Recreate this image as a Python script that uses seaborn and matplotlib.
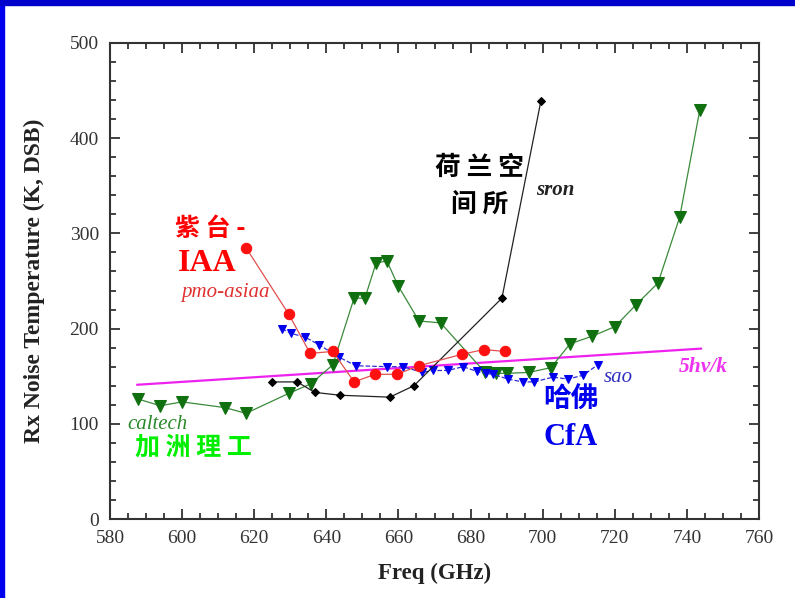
import matplotlib
matplotlib.use("Agg")
import matplotlib.pyplot as plt
from matplotlib.patches import Rectangle
from matplotlib.ticker import MultipleLocator
import seaborn as sns
import pandas as pd

# receiver noise temperatures (GHz, K DSB)
caltech_freq = [587.8, 593.9, 600.0, 611.9, 617.7, 629.6, 635.7, 641.8, 647.7, 650.7,
                653.8, 656.8, 659.9, 665.7, 671.7, 684.0, 687.0, 690.0, 696.2, 702.3,
                707.6, 713.7, 720.0, 725.9, 732.0, 738.0, 743.6]
caltech_temp = [126, 119, 123, 117, 111, 132, 142, 162, 232, 232,
                269, 271, 245, 208, 206, 154, 153, 153, 154, 159,
                184, 192, 202, 225, 248, 317, 430]

pmo_freq = [617.7, 629.6, 635.5, 641.8, 647.7, 653.5, 659.6, 665.7, 677.6, 683.7, 689.5]
pmo_temp = [285, 215, 174, 176, 144, 152, 152, 161, 173, 178, 176]

sron_freq = [624.9, 631.9, 636.8, 643.8, 657.6, 664.3, 688.7, 699.5]
sron_temp = [144, 144, 133, 130, 128, 140, 232, 439]

sao_freq = [627.7, 630.2, 634.1, 638.0, 643.5, 648.2, 656.8, 661.3, 666.5, 669.6,
            673.7, 677.9, 681.8, 684.3, 686.2, 690.4, 694.5, 697.6, 702.8, 707.0,
            711.2, 715.3]
sao_temp = [200, 195, 191, 183, 170, 161, 160, 160, 154, 156,
            156, 160, 155, 153, 152, 147, 144, 144, 149, 147,
            151, 162]

quantum_freq = [587.5, 744.0]
quantum_temp = [141, 179]

sns.set_theme(style="ticks")
plt.rcParams["font.family"] = ["Liberation Serif", "Noto Sans CJK SC", "DejaVu Sans"]
cjk = ["Noto Sans CJK SC", "DejaVu Sans"]

fig = plt.figure(figsize=(7.95, 5.98), dpi=100)
ax = fig.add_axes([0.1384, 0.1321, 0.8163, 0.7960])

# slide frame
fig.patches.append(Rectangle((0, 0), 0.005, 1, transform=fig.transFigure, color="#0000ee", zorder=0))
fig.patches.append(Rectangle((0, 0.991), 1, 0.009, transform=fig.transFigure, color="#0000cc", zorder=0))

df = pd.DataFrame({"f": quantum_freq, "T": quantum_temp})
sns.lineplot(data=df, x="f", y="T", color="#ee22ee", lw=1.6, ax=ax, estimator=None)

df = pd.DataFrame({"f": caltech_freq, "T": caltech_temp})
sns.lineplot(data=df, x="f", y="T", color="#3a8a3a", lw=0.9, marker="v", markersize=8,
             markerfacecolor="#107010", markeredgecolor="#107010", ax=ax, estimator=None, sort=False)

df = pd.DataFrame({"f": sao_freq, "T": sao_temp})
sns.lineplot(data=df, x="f", y="T", color="#3030d0", lw=0.9, ls="--", marker="v", markersize=6,
             markerfacecolor="#0000ee", markeredgecolor="#0000ee", ax=ax, estimator=None, sort=False)

df = pd.DataFrame({"f": sron_freq, "T": sron_temp})
sns.lineplot(data=df, x="f", y="T", color="#222222", lw=0.9, marker="D", markersize=4.5,
             markerfacecolor="black", markeredgecolor="black", ax=ax, estimator=None, sort=False)

df = pd.DataFrame({"f": pmo_freq, "T": pmo_temp})
sns.lineplot(data=df, x="f", y="T", color="#e05050", lw=0.9, marker="o", markersize=7.5,
             markerfacecolor="#ff1010", markeredgecolor="#ff1010", ax=ax, estimator=None, sort=False)

ax.set_xlim(580, 760)
ax.set_ylim(0, 500)
ax.xaxis.set_major_locator(MultipleLocator(20))
ax.xaxis.set_minor_locator(MultipleLocator(5))
ax.yaxis.set_major_locator(MultipleLocator(100))
ax.yaxis.set_minor_locator(MultipleLocator(20))
ax.tick_params(which="both", direction="in", top=True, right=True, color="#333333", width=1.3,
               labelsize=14, labelcolor="#333333", pad=8)
ax.tick_params(which="major", length=7)
ax.tick_params(which="minor", length=4)
for s in ax.spines.values():
    s.set_color("#333333")
    s.set_linewidth(1.5)

ax.set_xlabel("Freq (GHz)", fontsize=16.5, fontweight="bold", color="#222222")
ax.set_ylabel("Rx Noise Temperature (K, DSB)", fontsize=17, fontweight="bold", color="#222222")
ax.xaxis.set_label_coords(0.5, -0.092)
ax.yaxis.set_label_coords(-0.1, 0.5)

# annotations
ax.text(607.7, 305, "紫 台 -", family=cjk, fontsize=18, fontweight="bold", color="#ff0000", ha="center", va="center")
ax.text(606.9, 268, "IAA", fontsize=23, fontweight="bold", color="#ff0000", ha="center", va="center")
ax.text(611.9, 238, "pmo-asiaa", fontsize=15, style="italic", color="#e03030", ha="center", va="center")
ax.text(682.6, 369, "荷 兰 空", family=cjk, fontsize=18.5, fontweight="bold", color="black", ha="center", va="center")
ax.text(682.6, 330, "间 所", family=cjk, fontsize=18.5, fontweight="bold", color="black", ha="center", va="center")
ax.text(703.4, 346, "sron", fontsize=15, style="italic", fontweight="bold", color="#222222", ha="center", va="center")
ax.text(593.3, 99, "caltech", fontsize=15, style="italic", color="#2a8a2a", ha="center", va="center")
ax.text(603.0, 75, "加 洲 理 工", family=cjk, fontsize=18, fontweight="bold", color="#00ee00", ha="center", va="center")
ax.text(720.9, 149, "sao", fontsize=15, style="italic", color="#3030c0", ha="center", va="center")
ax.text(707.8, 125, "哈佛", family=cjk, fontsize=20, fontweight="bold", color="#0000ee", ha="center", va="center")
ax.text(707.8, 86, "CfA", fontsize=22, fontweight="bold", color="#0000ee", ha="center", va="center")
ax.text(744.5, 160, "5h\u03bd/k", fontsize=15.5, style="italic", fontweight="bold", color="#ee33ee", ha="center", va="center")

fig.savefig("out.png", dpi=100)
